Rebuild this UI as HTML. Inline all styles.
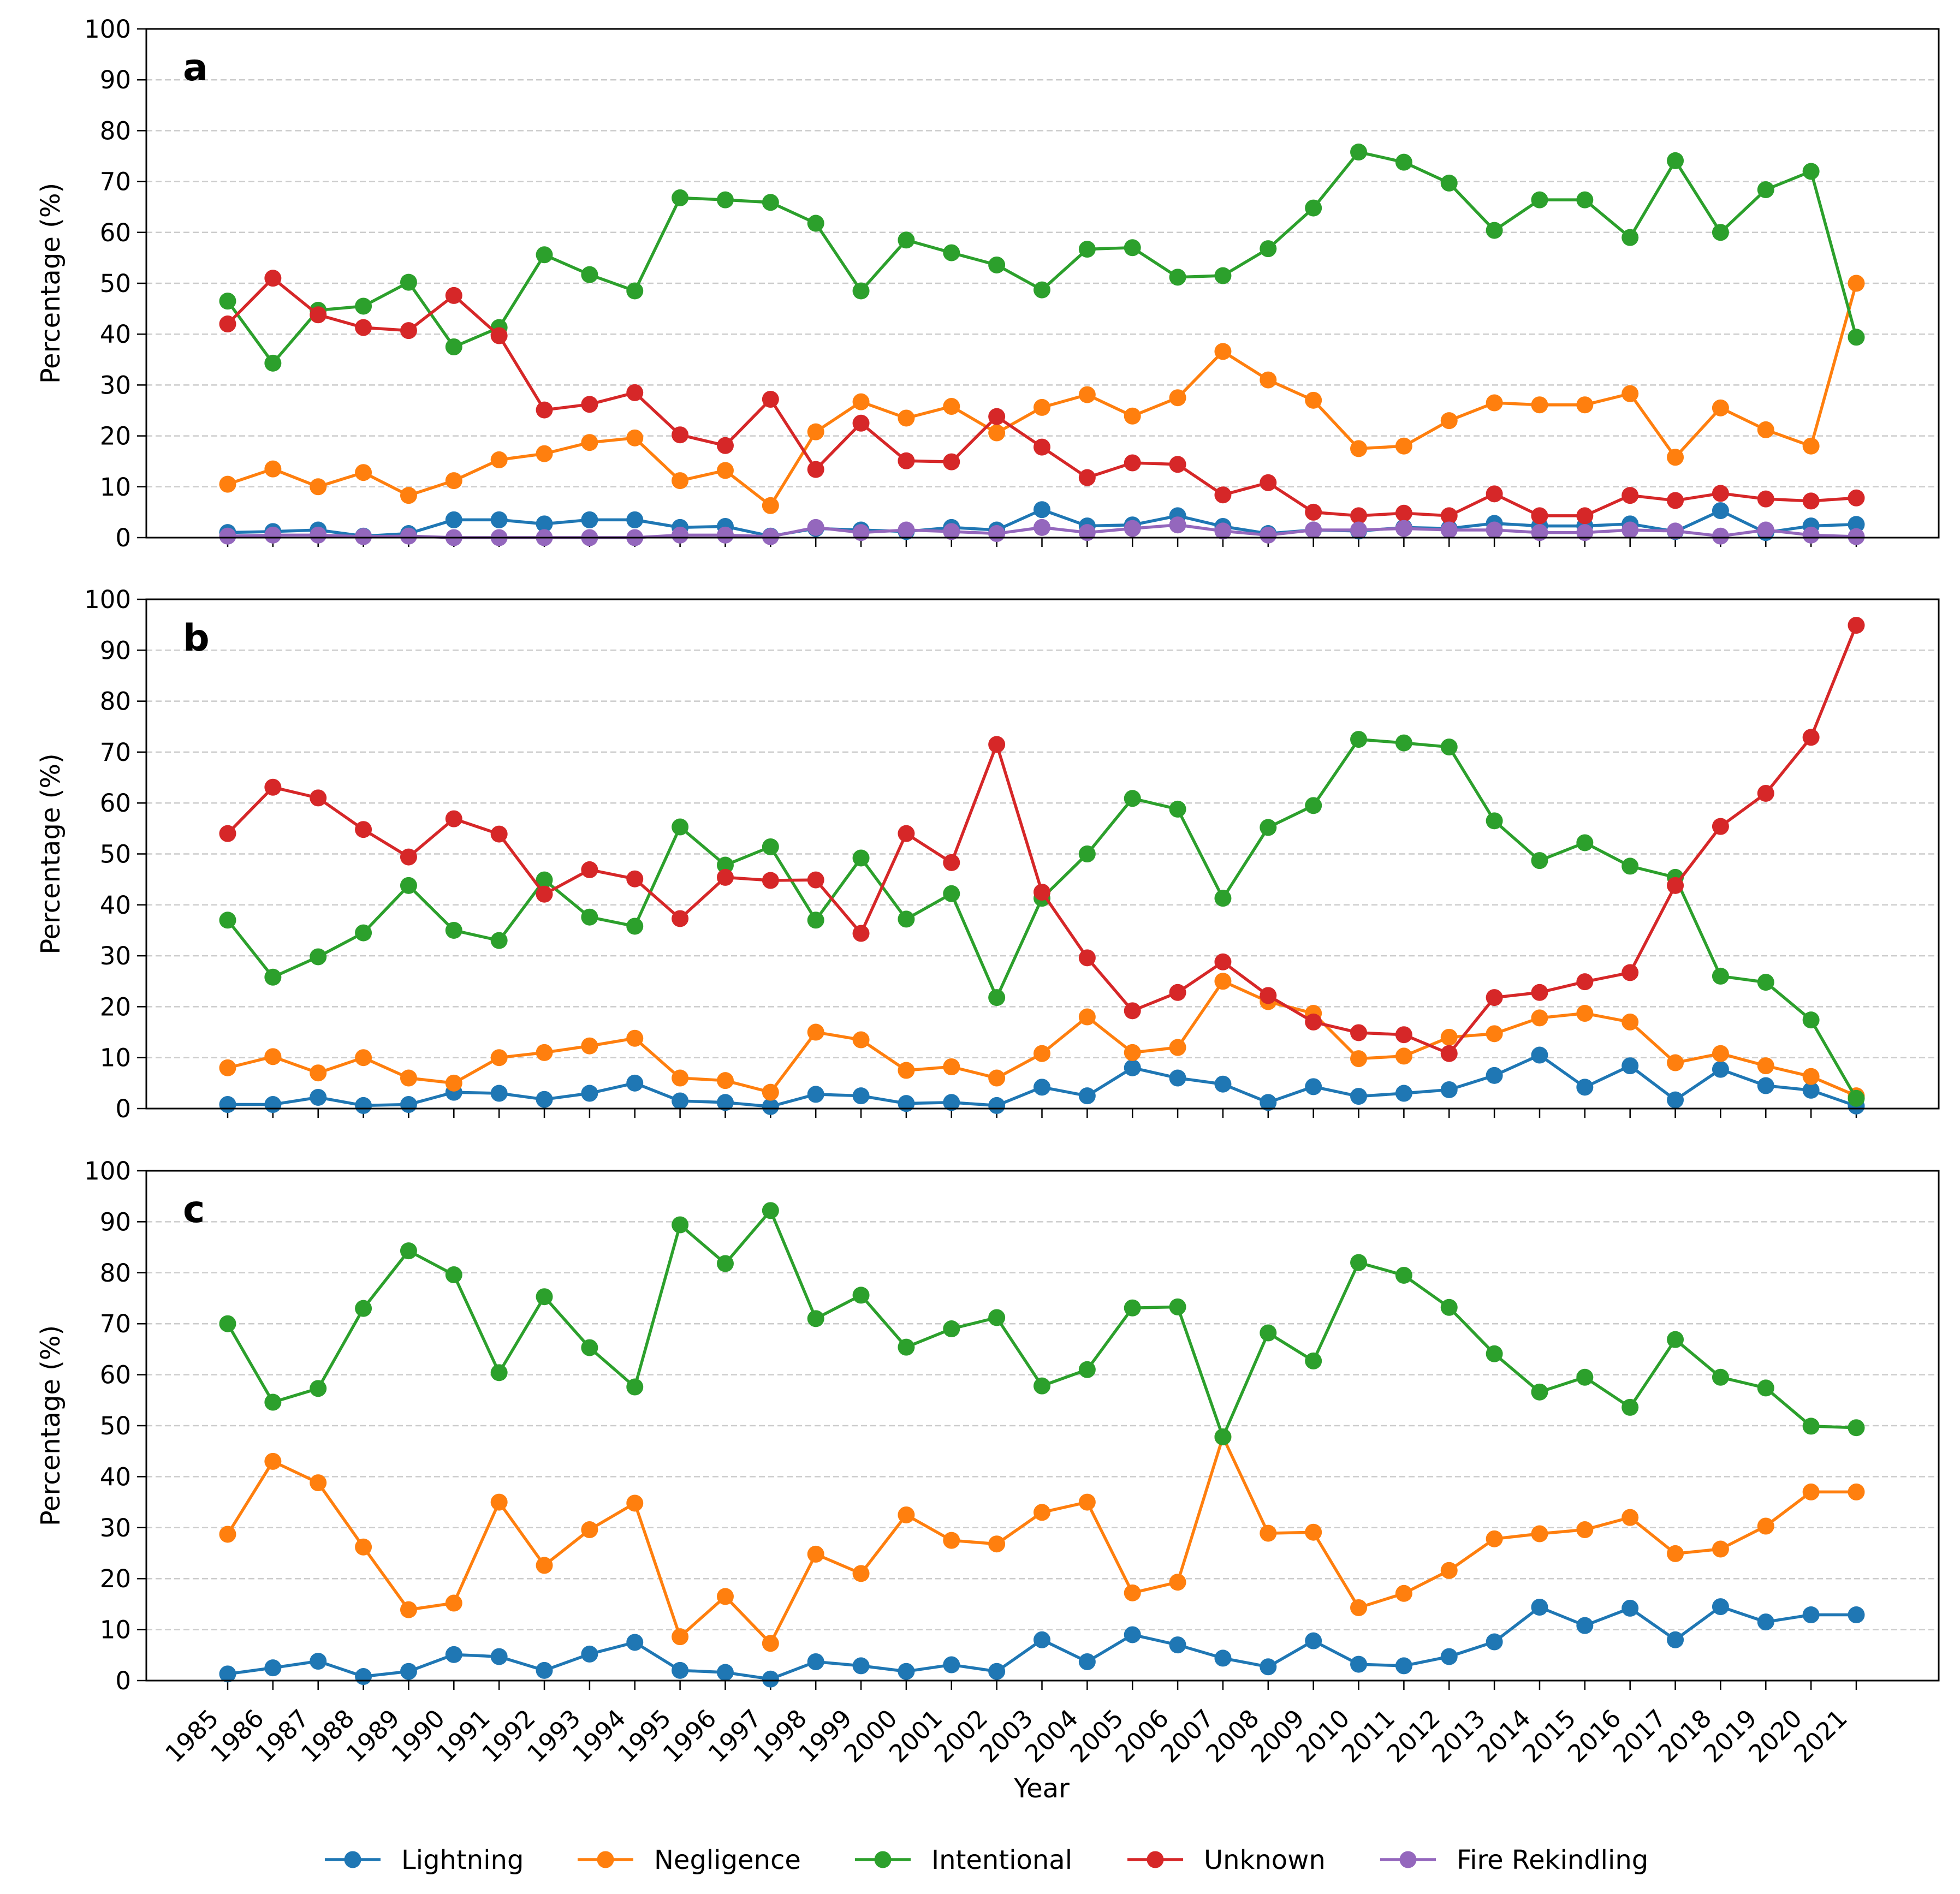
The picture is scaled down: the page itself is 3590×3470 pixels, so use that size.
<!DOCTYPE html>
<html><head><meta charset="utf-8"><style>
html,body{margin:0;padding:0;background:#fff}
svg{display:block;font-family:"DejaVu Sans","Liberation Sans",sans-serif}
</style></head><body>
<svg id="chart" width="3590" height="3470" viewBox="0 0 3590 3470" xmlns="http://www.w3.org/2000/svg"></svg>
<script>
const years = [1985,1986,1987,1988,1989,1990,1991,1992,1993,1994,1995,1996,1997,1998,1999,2000,2001,2002,2003,2004,2005,2006,2007,2008,2009,2010,2011,2012,2013,2014,2015,2016,2017,2018,2019,2020,2021];
const yTicks = [0,10,20,30,40,50,60,70,80,90,100];
const seriesNames = ["Lightning","Negligence","Intentional","Unknown","Fire Rekindling"];
const seriesColors = ["#1f77b4","#ff7f0e","#2ca02c","#d62728","#9467bd"];
const aLightning = [1,1.2,1.5,0.3,0.8,3.5,3.5,2.7,3.5,3.5,2,2.2,0.3,1.8,1.5,1.2,2,1.5,5.5,2.3,2.5,4.3,2.2,0.8,1.5,1.3,2,1.8,2.8,2.3,2.3,2.7,1.2,5.3,1,2.3,2.6];
const aNegligence = [10.5,13.5,10,12.8,8.3,11.2,15.3,16.5,18.7,19.6,11.2,13.2,6.3,20.8,26.7,23.5,25.8,20.6,25.6,28.1,23.9,27.5,36.6,31,27,17.5,18,23,26.5,26.1,26.1,28.3,15.8,25.5,21.2,18,50];
const aIntentional = [46.5,34.3,44.7,45.5,50.2,37.5,41.3,55.6,51.7,48.5,66.8,66.4,65.9,61.8,48.5,58.5,56,53.6,48.7,56.7,57,51.2,51.5,56.8,64.8,75.8,73.8,69.7,60.4,66.4,66.4,59,74.1,60,68.4,72,39.4];
const aUnknown = [42,51,43.8,41.3,40.7,47.6,39.7,25.1,26.2,28.5,20.2,18.1,27.2,13.4,22.5,15.1,14.9,23.8,17.8,11.8,14.7,14.4,8.4,10.8,5,4.3,4.8,4.3,8.6,4.3,4.3,8.3,7.3,8.7,7.6,7.2,7.8];
const aRekindling = [0.3,0.5,0.5,0.2,0.3,0,0,0,0,0,0.5,0.5,0.2,2,1,1.5,1.2,0.8,2,1,1.8,2.5,1.3,0.5,1.5,1.5,1.8,1.5,1.5,1,1,1.5,1.3,0.3,1.5,0.5,0.2];
const bLightning = [0.8,0.8,2.2,0.6,0.8,3.2,3,1.8,3,5,1.5,1.2,0.4,2.8,2.5,1,1.2,0.6,4.2,2.5,8,6,4.8,1.2,4.3,2.4,3,3.7,6.5,10.5,4.2,8.4,1.7,7.7,4.5,3.6,0.5];
const bNegligence = [8,10.2,7,10,6,5,10,11,12.3,13.8,6,5.5,3.2,15,13.5,7.5,8.2,6,10.8,18,11,12,25,21,18.7,9.8,10.3,14,14.7,17.8,18.7,17,9,10.8,8.4,6.3,2.5];
const bIntentional = [37,25.8,29.8,34.5,43.8,35,33,44.9,37.6,35.8,55.3,47.8,51.4,37,49.2,37.2,42.2,21.8,41.3,50,60.9,58.8,41.3,55.2,59.5,72.5,71.8,71,56.5,48.7,52.2,47.6,45.4,26,24.8,17.4,2];
const bUnknown = [54,63.1,61,54.8,49.4,56.9,53.9,42.1,46.9,45.1,37.3,45.4,44.8,44.9,34.4,54,48.3,71.5,42.5,29.6,19.2,22.8,28.8,22.2,17,14.9,14.5,10.8,21.8,22.8,24.9,26.7,43.8,55.4,61.9,72.9,94.9];
const cLightning = [1.3,2.5,3.8,0.8,1.8,5.1,4.7,2,5.2,7.5,2,1.6,0.3,3.7,2.9,1.8,3.1,1.8,8,3.7,9,7,4.4,2.7,7.8,3.2,2.9,4.7,7.6,14.4,10.8,14.2,8,14.5,11.5,12.9,12.9];
const cNegligence = [28.7,43,38.8,26.2,13.9,15.2,35,22.6,29.6,34.8,8.6,16.5,7.3,24.8,21,32.5,27.5,26.8,33,35,17.2,19.3,47.8,28.9,29.1,14.3,17.1,21.6,27.8,28.8,29.6,32,24.9,25.8,30.3,37,37];
const cIntentional = [70,54.6,57.3,73,84.3,79.6,60.4,75.3,65.3,57.6,89.4,81.8,92.2,71,75.6,65.4,69,71.2,57.8,61,73.1,73.3,47.8,68.2,62.7,82,79.5,73.2,64.1,56.6,59.5,53.6,66.9,59.5,57.4,49.9,49.6];

const NS="http://www.w3.org/2000/svg";
const svg=document.getElementById('chart');
function mk(tag,attrs,parent){const e=document.createElementNS(NS,tag);for(const k in attrs)e.setAttribute(k,attrs[k]);(parent||svg).appendChild(e);return e;}
const L=268,R=3551,X0=417,X1=3400;
function xPos(i){return X0+(X1-X0)*i/(years.length-1);}
const panels=[
 {label:"a",top:53,bot:985,series:[[0,aLightning],[1,aNegligence],[2,aIntentional],[3,aUnknown],[4,aRekindling]]},
 {label:"b",top:1098,bot:2031,series:[[0,bLightning],[1,bNegligence],[2,bIntentional],[3,bUnknown]]},
 {label:"c",top:2145,bot:3079,series:[[0,cLightning],[1,cNegligence],[2,cIntentional]]}
];
panels.forEach((p,pi)=>{
 const g=mk('g',{});
 
 
 const yPos=v=>p.bot-(p.bot-p.top)*v/100;
 yTicks.forEach(t=>{
  const y=yPos(t);
  if(t>0&&t<100){const gl=mk('line',{x1:L,x2:R,y1:y,y2:y,stroke:'#cccccc','stroke-width':2.5,'stroke-dasharray':'11,6'},g);
   
   }
  mk('line',{x1:L-17,x2:L,y1:y,y2:y,stroke:'#000','stroke-width':2.5},g);
  const tx=mk('text',{x:L-28,y:y+16,'text-anchor':'end','font-size':45,fill:'#000'},g);
  tx.textContent=t;
  
  
 });
 years.forEach((yr,i)=>{mk('line',{x1:xPos(i),x2:xPos(i),y1:p.bot,y2:p.bot+17,stroke:'#000','stroke-width':2.5},g);});
 const yl=mk('text',{x:0,y:0,'text-anchor':'middle','font-size':48,fill:'#000',transform:`translate(109,${(p.top+p.bot)/2}) rotate(-90)`},g);
 yl.textContent='Percentage (%)';
 
 
 const pl=mk('text',{x:335,y:p.top+94,'font-size':68,'font-weight':'bold',fill:'#000'},g);
 pl.textContent=p.label;
 
 
 p.series.forEach(([si,vals])=>{
  const sg=mk('g',{},g);
  
  
  const pts=vals.map((v,i)=>xPos(i)+','+yPos(v)).join(' ');
  mk('polyline',{points:pts,fill:'none',stroke:seriesColors[si],'stroke-width':5.5,'stroke-linejoin':'round'},sg);
  vals.forEach((v,i)=>{
   const c=mk('circle',{cx:xPos(i),cy:yPos(v),r:15.5,fill:seriesColors[si]},sg);
   
   
  });
 });
 const fr=mk('rect',{x:L,y:p.top,width:R-L,height:p.bot-p.top,fill:'none',stroke:'#000','stroke-width':3},g);
 
 
 if(pi===2){
  years.forEach((yr,i)=>{
   const x=xPos(i)-14,y=p.bot+72;
   const t=mk('text',{x:x,y:y,'text-anchor':'end','font-size':45,fill:'#000',transform:`rotate(-45 ${x} ${y})`},g);
   t.textContent=yr;
   
   
  });
 }
});
const xt=mk('text',{x:1908,y:3293,'text-anchor':'middle','font-size':48,fill:'#000'});
xt.textContent='Year';


const legStarts=[595,1058,1566,2065,2528];
const lg=mk('g',{});


seriesNames.forEach((n,i)=>{
 const eg=mk('g',{},lg);
 
 
 const x=legStarts[i],y=3407;
 mk('line',{x1:x,x2:x+102,y1:y,y2:y,stroke:seriesColors[i],'stroke-width':5.5},eg);
 mk('circle',{cx:x+51,cy:y,r:15.5,fill:seriesColors[i]},eg);
 const t=mk('text',{x:x+140,y:y+17,'font-size':48,fill:'#000'},eg);
 t.textContent=n;
});
</script>
</body></html>
